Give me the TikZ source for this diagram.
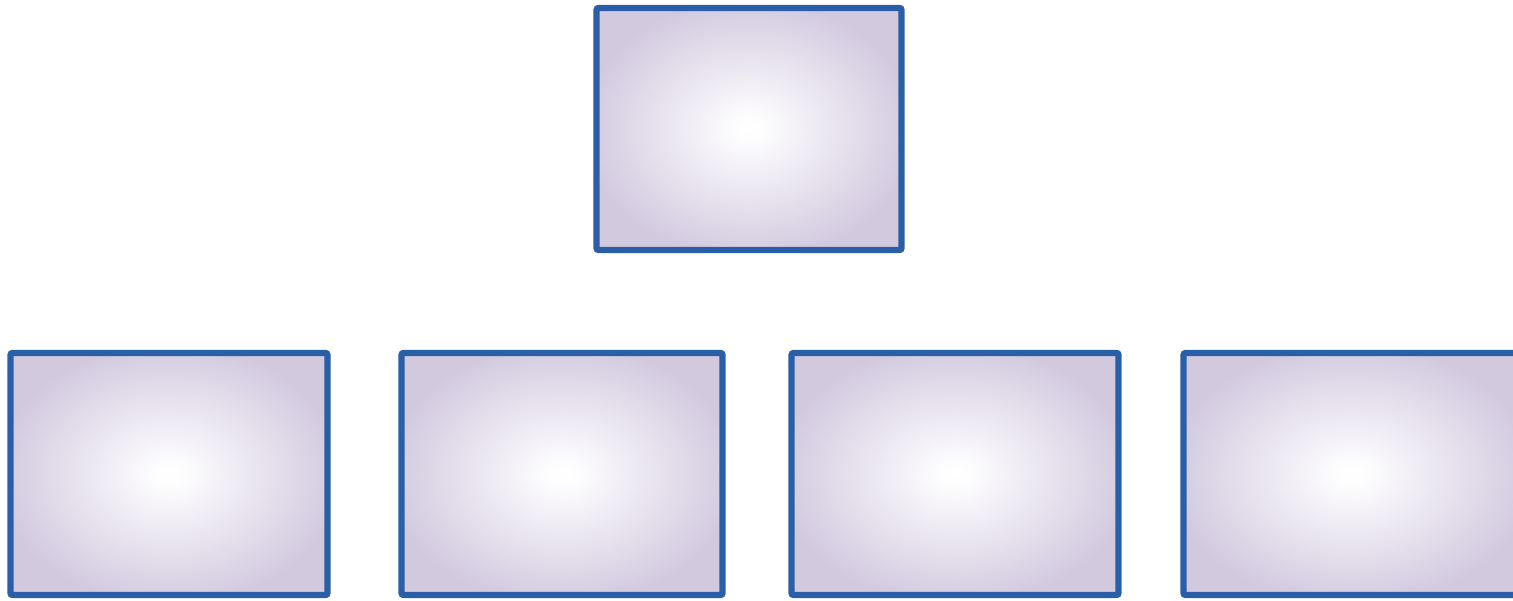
\documentclass[tikz,border=0pt]{standalone}
\usetikzlibrary{positioning}
\definecolor{boxLine}{HTML}{2A5FA8}
\definecolor{boxFill}{HTML}{D2C9DF}
\pgfdeclareradialshading{boxglow}{\pgfpoint{0bp}{0bp}}{%
  color(0bp)=(white); color(2bp)=(white!97!boxFill); color(27bp)=(boxFill); color(50bp)=(boxFill)}

\begin{document}
\begin{tikzpicture}[box/.style={draw=boxLine, line width=1.8pt, rounded corners=0.6pt,
    shading=boxglow, inner sep=0pt, minimum height=2.42cm}]
  \useasboundingbox (0,0) rectangle (15.13,6);
  \clip (0,0) rectangle (15.13,6);
  % top box
  \node[box, minimum width=3.05cm] (top) at (7.49,4.71) {};
  % bottom row, left to right
  \node[box, minimum width=3.17cm] (b1) at (1.69,1.26) {};
  \node[box, minimum width=3.21cm] (b2) at (5.62,1.26) {};
  \node[box, minimum width=3.27cm] (b3) at (9.55,1.26) {};
  \node[box, minimum width=3.36cm] (b4) at (13.515,1.26) {};
\end{tikzpicture}
\end{document}
